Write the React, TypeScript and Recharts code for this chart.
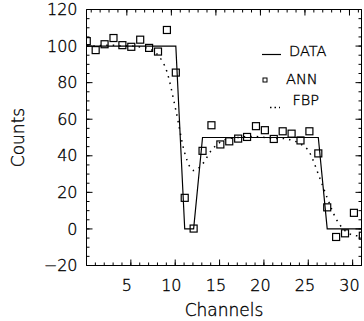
import React from "react";
import { ComposedChart, Line, Scatter, XAxis, YAxis, Legend } from "recharts";

// channel centres (x positions of the samples)
const channels = [
  0.5, 1.5, 2.5, 3.5, 4.5, 5.5, 6.5, 7.5, 8.5, 9.5, 10.5, 11.5, 12.5, 13.5, 14.5, 15.5,
  16.5, 17.5, 18.5, 19.5, 20.5, 21.5, 22.5, 23.5, 24.5, 25.5, 26.5, 27.5, 28.5, 29.5, 30.5, 31.5
];

const dataCounts = [
  100, 100, 100, 100, 100, 100, 100, 100, 100, 100, 100, 0, 0, 50, 50, 50,
  50, 50, 50, 50, 50, 50, 50, 50, 50, 50, 50, 0, 0, 0, 0, 0
];

const annCounts = [
  102.7, 97.8, 101, 104.4, 100.5, 99.6, 103.5, 99, 97, 108.8, 85.5, 17, 0.2, 42.7, 56.7, 46.2,
  47.9, 49.4, 50.3, 56.2, 54, 49.2, 53.4, 52.1, 48.4, 53.4, 41.3, 11.8, -4.4, -2.4, 8.8, -3.7
];

const fbpCounts = [
  100, 100, 100.5, 100.5, 100, 100, 99.5, 98.5, 95, 86, 65, 41.5, 32, 35.5, 43, 47.5,
  49.5, 50, 50.5, 50.5, 50, 49.5, 49.5, 48.5, 46.5, 42, 30, 17, 5.5, -1, -3.5, -4
];

const xLabelTicks = [5, 10, 15, 20, 25, 30];
const xMinorTicks = [
  1, 2, 3, 4, 5, 6, 7, 8, 9, 10, 11, 12, 13, 14, 15, 16, 17, 18, 19, 20,
  21, 22, 23, 24, 25, 26, 27, 28, 29, 30, 31
];
const yLabelTicks = [-20, 0, 20, 40, 60, 80, 100, 120];
const yMinorTicks = [
  -20, -15, -10, -5, 0, 5, 10, 15, 20, 25, 30, 35, 40, 45, 50, 55, 60, 65, 70, 75,
  80, 85, 90, 95, 100, 105, 110, 115, 120
];

const rows = channels.map((c, i) => ({
  channel: c,
  data: dataCounts[i],
  ann: annCounts[i],
  fbp: fbpCounts[i]
}));

const FONT = "'DejaVu Sans', sans-serif";
const X_DOMAIN: [number, number] = [0.47, 31.35];
const Y_DOMAIN: [number, number] = [-20, 120];

// chart layout
const W = 364;
const H = 321;
const M_TOP = 9.5;
const M_RIGHT = 2.5;
const X_AXIS_H = 55.5;
const Y_AXIS_W = 86.5;
const PLOT_H = H - M_TOP - X_AXIS_H;
const PLOT_W = W - M_RIGHT - Y_AXIS_W;
const PLOT_LEFT = Y_AXIS_W;
const PLOT_RIGHT = W - M_RIGHT;
const PLOT_TOP = M_TOP;
const PLOT_BOTTOM = M_TOP + PLOT_H;

// same linear mapping as the chart's axes, for the top/right frame marks
const xPx = (v: number) => PLOT_LEFT + ((v - X_DOMAIN[0]) / (X_DOMAIN[1] - X_DOMAIN[0])) * PLOT_W;
const yPx = (v: number) => PLOT_TOP + ((Y_DOMAIN[1] - v) / (Y_DOMAIN[1] - Y_DOMAIN[0])) * PLOT_H;

const formatCount = (v: number) => (v < 0 ? `\u2212${Math.abs(v)}` : `${v}`);

const SquareMark = (props: any) => {
  const { cx, cy } = props;
  return (
    <rect x={cx - 3.5} y={cy - 3.5} width={7} height={7} fill="none" stroke="#000" strokeWidth={1.2} />
  );
};

const NoLabel = () => <g />;

const textInk = { fill: "#000", stroke: "#000", strokeWidth: 0.35, fontFamily: FONT, fontWeight: 200 };
const legendText = { ...textInk, fontSize: 14.5 };

// legend box sits at (255, 35) in the chart
const renderLegend = () => (
  <svg width={95} height={80} style={{ display: "block", overflow: "visible" }}>
    <line x1={7} y1={19.5} x2={26} y2={19.5} stroke="#000" strokeWidth={1.2} />
    <text x={34} y={21} style={legendText}>DATA</text>
    <rect x={8} y={43} width={4} height={4} fill="none" stroke="#000" />
    <text x={31} y={48.5} style={legendText}>ANN</text>
    <line x1={15} y1={72.5} x2={25} y2={72.5} stroke="#000" strokeWidth={1.5} strokeDasharray="1.5 3" />
    <text x={37.5} y={69.5} style={legendText}>FBP</text>
  </svg>
);

// top and right sides of the box with their inward ticks
const FrameTopRight = () => (
  <svg
    width={W}
    height={H}
    style={{ position: "absolute", left: 0, top: 0, pointerEvents: "none" }}
  >
    <g stroke="#000" strokeWidth={1} fill="none">
      <line x1={PLOT_LEFT} y1={PLOT_TOP} x2={PLOT_RIGHT} y2={PLOT_TOP} />
      <line x1={PLOT_RIGHT} y1={PLOT_TOP} x2={PLOT_RIGHT} y2={PLOT_BOTTOM} />
      {xMinorTicks.map((t) => (
        <line key={`tm${t}`} x1={xPx(t)} x2={xPx(t)} y1={PLOT_TOP} y2={PLOT_TOP + 3} />
      ))}
      {xLabelTicks.map((t) => (
        <line key={`tM${t}`} x1={xPx(t)} x2={xPx(t)} y1={PLOT_TOP} y2={PLOT_TOP + 6} />
      ))}
      {yMinorTicks.map((t) => (
        <line key={`rm${t}`} x1={PLOT_RIGHT} x2={PLOT_RIGHT - 3} y1={yPx(t)} y2={yPx(t)} />
      ))}
      {yLabelTicks.map((t) => (
        <line key={`rM${t}`} x1={PLOT_RIGHT} x2={PLOT_RIGHT - 6} y1={yPx(t)} y2={yPx(t)} />
      ))}
    </g>
  </svg>
);

const tickStyle = { ...textInk, fontSize: 16 };

export default function App() {
  return (
    <div style={{ position: "absolute", left: 0, top: 0, width: W, height: H }}>
      <ComposedChart
        width={W}
        height={H}
        data={rows}
        margin={{ top: M_TOP, right: M_RIGHT, left: 0, bottom: 0 }}
      >
        {/* labelled axes */}
        <XAxis
          xAxisId="x"
          dataKey="channel"
          type="number"
          domain={X_DOMAIN}
          allowDataOverflow
          ticks={xLabelTicks}
          interval={0}
          height={X_AXIS_H}
          tickSize={0}
          tickMargin={14.6}
          tickLine={false}
          axisLine={false}
          tick={tickStyle}
          label={{ value: "Channels", position: "insideBottom", offset: 5.5, ...textInk, fontSize: 17 }}
        />
        <YAxis
          yAxisId="y"
          type="number"
          domain={Y_DOMAIN}
          allowDataOverflow
          ticks={yLabelTicks}
          interval={0}
          width={Y_AXIS_W}
          tickSize={0}
          tickMargin={9}
          tickLine={false}
          axisLine={false}
          tick={tickStyle}
          tickFormatter={formatCount}
          label={{ value: "Counts", angle: -90, position: "insideLeft", offset: 18, ...textInk, fontSize: 17, style: { textAnchor: "middle" } }}
        />

        {/* inward tick marks on bottom and left */}
        <XAxis xAxisId="xb" type="number" domain={X_DOMAIN} allowDataOverflow ticks={xLabelTicks} interval={0} mirror height={0.01} tick={NoLabel} tickSize={6} stroke="#000" />
        <XAxis xAxisId="xbm" type="number" domain={X_DOMAIN} allowDataOverflow ticks={xMinorTicks} interval={0} mirror height={0.01} tick={NoLabel} tickSize={3} axisLine={false} stroke="#000" />
        <YAxis yAxisId="yl" type="number" domain={Y_DOMAIN} allowDataOverflow ticks={yLabelTicks} interval={0} mirror width={0.01} tick={NoLabel} tickSize={6} stroke="#000" />
        <YAxis yAxisId="ylm" type="number" domain={Y_DOMAIN} allowDataOverflow ticks={yMinorTicks} interval={0} mirror width={0.01} tick={NoLabel} tickSize={3} axisLine={false} stroke="#000" />

        <Line
          xAxisId="x"
          yAxisId="y"
          type="linear"
          dataKey="data"
          name="DATA"
          stroke="#000"
          strokeWidth={1.2}
          dot={false}
          isAnimationActive={false}
        />
        <Line
          xAxisId="x"
          yAxisId="y"
          type="monotone"
          dataKey="fbp"
          name="FBP"
          stroke="#000"
          strokeWidth={1.5}
          strokeDasharray="1.5 5"
          dot={false}
          isAnimationActive={false}
        />
        <Scatter
          xAxisId="x"
          yAxisId="y"
          dataKey="ann"
          name="ANN"
          shape={SquareMark}
          isAnimationActive={false}
        />
        <Legend
          layout="horizontal"
          verticalAlign="middle"
          align="center"
          wrapperStyle={{ left: 255, top: 35, width: 95, height: 80, pointerEvents: "none" }}
          content={renderLegend}
        />
      </ComposedChart>
      <FrameTopRight />
    </div>
  );
}
